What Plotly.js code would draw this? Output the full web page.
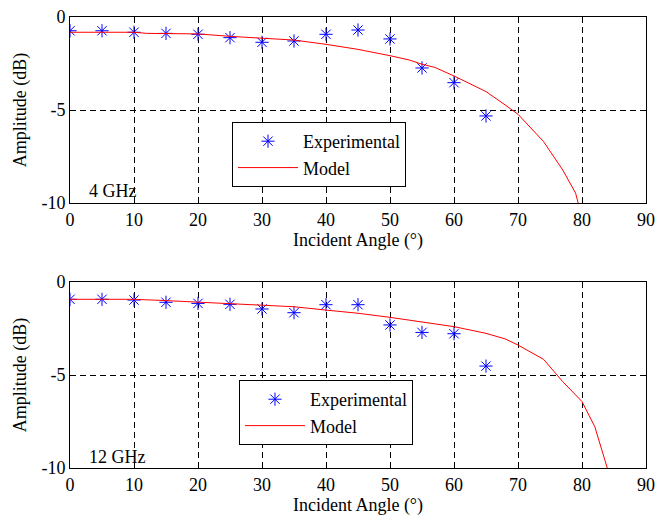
<!DOCTYPE html>
<html><head><meta charset="utf-8">
<script src="https://cdn.plot.ly/plotly-3.0.1.min.js"></script>
<style>html,body{margin:0;padding:0;background:#fff}</style>
</head><body><div id="chart" style="width:671px;height:518px"></div>
<script>
const expAngles = [0,5,10,15,20,25,30,35,40,45,50,55,60,65];
const exp4 = [-0.74,-0.74,-0.82,-0.88,-0.93,-1.11,-1.36,-1.29,-0.93,-0.70,-1.18,-2.74,-3.53,-5.32];
const modelAngles4 = [0,5,10,12,15,20,25,30,35,40,45,50,53,55,57,60,65,68,70,74,77,79,79.4];
const model4 = [-0.82,-0.82,-0.82,-0.88,-0.89,-0.91,-1.04,-1.15,-1.24,-1.47,-1.74,-2.08,-2.31,-2.54,-2.71,-3.17,-4.01,-4.73,-5.23,-6.70,-8.23,-9.47,-10];
const exp12 = [-0.93,-0.93,-0.97,-1.09,-1.15,-1.20,-1.45,-1.65,-1.22,-1.22,-2.31,-2.71,-2.78,-4.52];
const modelAngles12 = [0,5,10,15,20,25,30,35,40,45,50,55,60,65,68,70,74,77,80,82,83.95];
const model12 = [-0.93,-0.93,-0.93,-1.0,-1.08,-1.15,-1.22,-1.33,-1.51,-1.68,-1.90,-2.17,-2.40,-2.76,-3.06,-3.39,-4.16,-5.36,-6.43,-7.78,-10];
const xTicks = [0,10,20,30,40,50,60,70,80,90];
const yTicks = [0,-5,-10];
const panelLabels = ['4 GHz','12 GHz'];
const seriesNames = ['Experimental','Model'];
const xTitle = 'Incident Angle (°)';
const yTitle = 'Amplitude (dB)';

const FONT = {family:'"Liberation Serif", "Times New Roman", serif', size:18, color:'#000'};
const expStyle = {mode:'markers', marker:{symbol:'asterisk-open', size:11, color:'#0000ff', line:{color:'#0000ff', width:1}}};
const modStyle = {mode:'lines', line:{color:'#ff0000', width:1}};

const traces = [
  Object.assign({x:expAngles, y:exp4, name:seriesNames[0], xaxis:'x', yaxis:'y', legend:'legend'}, expStyle),
  Object.assign({x:modelAngles4, y:model4, name:seriesNames[1], xaxis:'x', yaxis:'y', legend:'legend'}, modStyle),
  Object.assign({x:expAngles, y:exp12, name:seriesNames[0], xaxis:'x2', yaxis:'y2', legend:'legend2'}, expStyle),
  Object.assign({x:modelAngles12, y:model12, name:seriesNames[1], xaxis:'x2', yaxis:'y2', legend:'legend2'}, modStyle)
];

function xax(anchor){
  return {anchor:anchor, range:[0,90], tickvals:xTicks, ticktext:xTicks.map(String),
    ticks:'inside', ticklen:4, tickcolor:'#000', mirror:'ticks', showline:true, linecolor:'#000', linewidth:1,
    showgrid:true, gridcolor:'#000', gridwidth:1, griddash:'6px,4px', zeroline:false,
    tickfont:FONT, title:{text:xTitle, font:FONT, standoff:4}, automargin:false};
}
function yax(anchor, domain){
  return {anchor:anchor, domain:domain, range:[-10,0], tickvals:yTicks, ticktext:yTicks.map(String),
    ticks:'inside', ticklen:4, tickcolor:'#000', mirror:'ticks', showline:true, linecolor:'#000', linewidth:1,
    showgrid:true, gridcolor:'#000', gridwidth:1, griddash:'6px,4px', zeroline:false,
    tickfont:FONT, title:{text:yTitle, font:FONT, standoff:10}, automargin:false};
}
const legendBase = {bgcolor:'#fff', bordercolor:'#000', borderwidth:1, font:FONT, xanchor:'left', yanchor:'top', itemwidth:60, tracegroupgap:0};

const layout = {
  width:671, height:518, margin:{l:70, r:25, t:17, b:50},
  paper_bgcolor:'#fff', plot_bgcolor:'#fff', font:FONT, showlegend:true,
  xaxis: xax('y'), yaxis: yax('x', [0.5876,1]),
  xaxis2: xax('y2'), yaxis2: yax('x2', [0,0.4124]),
  legend: Object.assign({x:0.28125, y:0.7672}, legendBase),
  legend2: Object.assign({x:0.2934, y:0.1951}, legendBase),
  annotations:[
    {xref:'x', yref:'y', x:2.7, y:-9.35, text:panelLabels[0], showarrow:false, xanchor:'left', yanchor:'middle', font:FONT},
    {xref:'x2', yref:'y2', x:2.7, y:-9.39, text:panelLabels[1], showarrow:false, xanchor:'left', yanchor:'middle', font:FONT}
  ]
};
Plotly.newPlot('chart', traces, layout, {displayModeBar:false, staticPlot:true});
</script></body></html>
